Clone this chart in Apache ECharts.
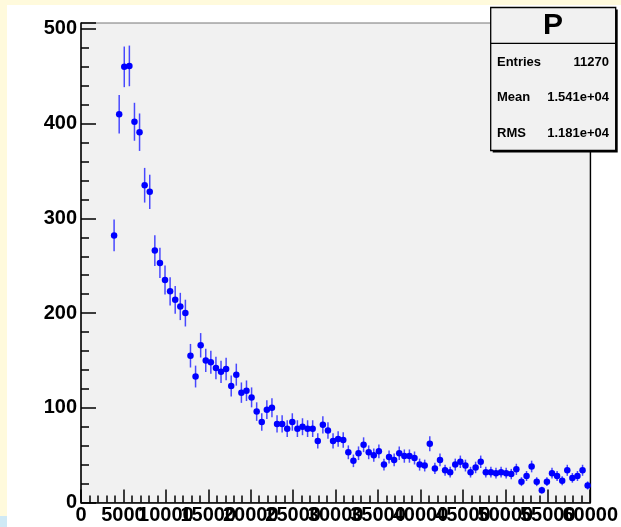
<!DOCTYPE html>
<html>
<head>
<meta charset="utf-8">
<script src="https://cdn.jsdelivr.net/npm/echarts@6/dist/echarts.min.js"></script>
<style>
  body { margin: 0; background: #fffadc; }
  #main { width: 621px; height: 527px; }
</style>
</head>
<body>
<div id="main"></div>
<script>
// histogram "P": 100 bins from 0 to 60000
var binLow = 0;
var binWidth = 600;
var counts = [
  0, 0, 0, 0, 0, 0, 282, 410, 460, 461,
  402, 391, 335, 328, 266, 253, 235, 223, 214, 207,
  200, 155, 133, 166, 150, 148, 142, 138, 141, 123,
  135, 116, 118, 111, 96, 85, 98, 100, 83, 83,
  78, 85, 78, 80, 78, 78, 65, 82, 76, 65,
  67, 66, 53, 44, 52, 61, 53, 50, 54, 40,
  48, 45, 52, 49, 49, 47, 40, 39, 62, 36,
  45, 34, 32, 40, 43, 39, 32, 37, 43, 32,
  32, 31, 32, 31, 30, 35, 22, 28, 38, 22,
  13, 22, 31, 28, 23, 34, 26, 28, 34, 18
];
var histTitle = 'P';
var statNames = ['Entries', 'Mean', 'RMS'];
var statValues = ['11270', '1.541e+04', '1.181e+04'];

// empty bins are not drawn (like ROOT)
var points = [];
for (var i = 0; i < counts.length; i++) {
  if (counts[i] > 0) {
    points.push([binLow + binWidth * i + binWidth / 2, counts[i], Math.sqrt(counts[i])]);
  }
}

var font = 'Liberation Sans, Arial, Helvetica, sans-serif';
var chart = echarts.init(document.getElementById('main'));

var statsText = [];
for (var k = 0; k < statNames.length; k++) {
  statsText.push({
    type: 'text', z: 102,
    style: { x: 497, y: 62 + k * 35.6, text: statNames[k], font: 'bold 13px ' + font,
             fill: '#000', textAlign: 'left', textVerticalAlign: 'middle' }
  });
  statsText.push({
    type: 'text', z: 102,
    style: { x: 609, y: 62 + k * 35.6, text: statValues[k], font: 'bold 13px ' + font,
             fill: '#000', textAlign: 'right', textVerticalAlign: 'middle' }
  });
}

var xLabelStyle = {
  interval: 0, hideOverlap: false, margin: 3,
  color: '#000', fontFamily: font, fontWeight: 'bold', fontSize: 20
};

var option = {
  backgroundColor: '#fffadc',
  animation: false,
  grid: {
    left: 81, top: 23, right: 30.5, bottom: 24.5,
    show: true,
    backgroundColor: '#f1f1f1',
    borderColor: '#777',
    borderWidth: 1
  },
  // ROOT lets the x labels overlap; two axes (even / odd labels) keep ECharts from dropping any
  xAxis: [
    {
      type: 'value',
      min: 0, max: 60000, interval: 5000,
      axisLine: { onZero: false, lineStyle: { color: '#000', width: 1.5 } },
      axisTick: { inside: true, length: 13, lineStyle: { color: '#000', width: 1.5 } },
      minorTick: { show: true, splitNumber: 5, length: 7, lineStyle: { color: '#000', width: 1.5 } },
      splitLine: { show: false },
      axisLabel: Object.assign({}, xLabelStyle, {
        formatter: function (v) { return v % 10000 === 0 ? String(v) : ''; }
      })
    },
    {
      type: 'value', position: 'bottom',
      min: 0, max: 60000, interval: 5000,
      axisLine: { show: false },
      axisTick: { show: false },
      splitLine: { show: false },
      axisLabel: Object.assign({}, xLabelStyle, {
        formatter: function (v) { return v % 10000 === 5000 ? String(v) : ''; }
      })
    }
  ],
  yAxis: [
    {
      type: 'value',
      min: 0, max: 506.3, interval: 100,
      axisLine: { show: true, lineStyle: { color: '#000', width: 1.5 } },
      axisTick: { show: true, inside: true, length: 15, lineStyle: { color: '#000', width: 1.5 } },
      minorTick: { show: true, splitNumber: 5, length: 8, lineStyle: { color: '#000', width: 1.5 } },
      splitLine: { show: false },
      axisLabel: {
        showMaxLabel: false, margin: 4,
        color: '#000', fontFamily: font, fontWeight: 'bold', fontSize: 20,
        formatter: function (v) { return v % 100 === 0 ? String(v) : ''; }
      }
    },
    {
      // right frame edge
      type: 'value', position: 'right',
      min: 0, max: 506.3,
      axisLine: { show: true, onZero: false, lineStyle: { color: '#000', width: 1.3 } },
      axisTick: { show: false },
      axisLabel: { show: false },
      splitLine: { show: false }
    }
  ],
  graphic: [
    { type: 'rect', z: -10, shape: { x: 7, y: 5, width: 614, height: 522 }, style: { fill: '#ffffff' } },
    { type: 'rect', z: -10, shape: { x: 0, y: 516, width: 7, height: 11 }, style: { fill: '#cfe9f5' } },
    // stats box
    { type: 'rect', z: 100, shape: { x: 492.7, y: 9.5, width: 125, height: 143 }, style: { fill: '#000' } },
    { type: 'rect', z: 101, shape: { x: 490.7, y: 7.5, width: 125, height: 143 },
      style: { fill: '#f1f1f1', stroke: '#000', lineWidth: 1.3 } },
    { type: 'line', z: 102, shape: { x1: 490.7, y1: 43.3, x2: 615.7, y2: 43.3 },
      style: { stroke: '#000', lineWidth: 1.3 } },
    { type: 'text', z: 102,
      style: { x: 553, y: 26, text: histTitle, font: 'bold 30px ' + font, fill: '#000',
               textAlign: 'center', textVerticalAlign: 'middle' } }
  ].concat(statsText),
  series: [
    {
      type: 'custom',
      data: points,
      encode: { x: 0, y: 1 },
      z: 3,
      renderItem: function (params, api) {
        var x = api.value(0), y = api.value(1), e = api.value(2);
        var top = api.coord([x, y + e]);
        var bot = api.coord([x, y - e]);
        return {
          type: 'line',
          shape: { x1: top[0], y1: top[1], x2: bot[0], y2: bot[1] },
          style: { stroke: '#4848ff', lineWidth: 1.5 }
        };
      }
    },
    {
      type: 'scatter',
      data: points,
      z: 4,
      symbol: 'circle',
      symbolSize: 6.5,
      itemStyle: { color: '#0000ff', opacity: 1 }
    }
  ]
};
chart.setOption(option);
</script>
</body>
</html>
